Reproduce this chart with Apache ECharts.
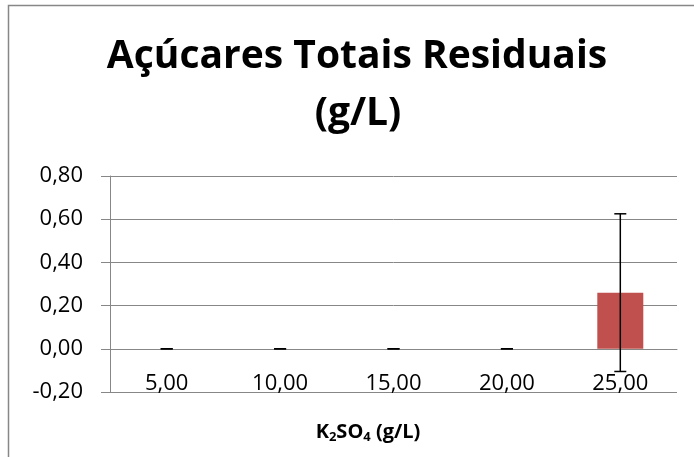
<!DOCTYPE html>
<html>
<head>
<meta charset="utf-8">
<script src="https://cdn.jsdelivr.net/npm/echarts@6/dist/echarts.min.js"></script>
<style>
  html, body { margin: 0; padding: 0; background: #fff; }
  #chart { width: 694px; height: 457px; }
</style>
</head>
<body>
<div id="chart"></div>
<script>
// dados do gráfico
const categories = ['5,00', '10,00', '15,00', '20,00', '25,00'];
const sugarValues = [0, 0, 0, 0, 0.26];
const sugarErrors = [0, 0, 0, 0, 0.365];
const yMin = -0.2;
const yMax = 0.8;
const yStep = 0.2;

const titleLines = ['Açúcares Totais Residuais', '(g/L)'];

const gray = '#878787';
const font = '"Open Sans", Lato, sans-serif';

// barras de erro: [categoria, baixo, alto]
const errorData = sugarValues.map(function (v, i) {
  return [i, v - sugarErrors[i], v + sugarErrors[i]];
});

function fmt(v) {
  if (Math.abs(v) < 1e-9) v = 0;
  return v.toFixed(2).replace('.', ',');
}

function renderErrorBar(params, api) {
  const lo = api.coord([api.value(0), api.value(1)]);
  const hi = api.coord([api.value(0), api.value(2)]);
  const half = 6;
  const style = { stroke: '#000', lineWidth: 1.5 };
  return {
    type: 'group',
    children: [
      { type: 'line', shape: { x1: hi[0], y1: hi[1], x2: lo[0], y2: lo[1] }, style: style },
      { type: 'line', shape: { x1: hi[0] - half, y1: hi[1], x2: hi[0] + half, y2: hi[1] }, style: style },
      { type: 'line', shape: { x1: lo[0] - half, y1: lo[1], x2: lo[0] + half, y2: lo[1] }, style: style }
    ]
  };
}

const chart = echarts.init(document.getElementById('chart'), null, { renderer: 'canvas' });

const option = {
  animation: false,
  backgroundColor: '#fff',
  textStyle: { fontFamily: font },
  graphic: [
    {
      type: 'rect',
      shape: { x: 8.5, y: 5.5, width: 800, height: 600 },
      style: { fill: 'none', stroke: gray, lineWidth: 1.5 },
      silent: true,
      z: -1
    },
    {
      type: 'text',
      x: 357,
      y: 57,
      style: {
        text: titleLines[0],
        font: 'bold 39px ' + font,
        fill: '#000',
        textAlign: 'center',
        textVerticalAlign: 'middle'
      }
    },
    {
      type: 'text',
      x: 358,
      y: 114,
      style: {
        text: titleLines[1],
        font: 'bold 39px ' + font,
        fill: '#000',
        textAlign: 'center',
        textVerticalAlign: 'middle'
      }
    },
    {
      type: 'text',
      x: 368,
      y: 432,
      style: {
        text: 'K{sub|2}SO{sub|4} (g/L)',
        font: 'bold 20px ' + font,
        fill: '#000',
        textAlign: 'center',
        textVerticalAlign: 'middle',
        rich: {
          sub: { fontSize: 13, fontWeight: 'bold', fontFamily: font, padding: [11, 0, 0, 0] }
        }
      }
    }
  ],
  grid: {
    left: 110,
    right: 17,
    top: 176,
    bottom: 65,
    containLabel: false
  },
  xAxis: {
    type: 'category',
    data: categories,
    offset: -43,
    axisLine: { show: true, onZero: false, lineStyle: { color: gray, width: 1 } },
    axisTick: { show: false },
    axisLabel: { color: '#000', fontSize: 22, fontFamily: font, margin: 24 },
    splitLine: { show: false }
  },
  yAxis: {
    type: 'value',
    min: yMin,
    max: yMax,
    interval: yStep,
    axisLine: { show: true, lineStyle: { color: gray, width: 1 } },
    axisTick: { show: true, inside: false, length: 9, lineStyle: { color: gray } },
    axisLabel: { color: '#000', fontSize: 22, fontFamily: font, margin: 27, formatter: fmt },
    splitLine: { show: true, lineStyle: { color: gray, width: 1 } }
  },
  series: [
    {
      type: 'bar',
      data: sugarValues,
      barWidth: 46,
      itemStyle: { color: '#C0504D' }
    },
    {
      type: 'custom',
      data: errorData,
      renderItem: renderErrorBar,
      encode: { x: 0, y: [1, 2] },
      z: 10
    }
  ]
};

chart.setOption(option);
</script>
</body>
</html>
